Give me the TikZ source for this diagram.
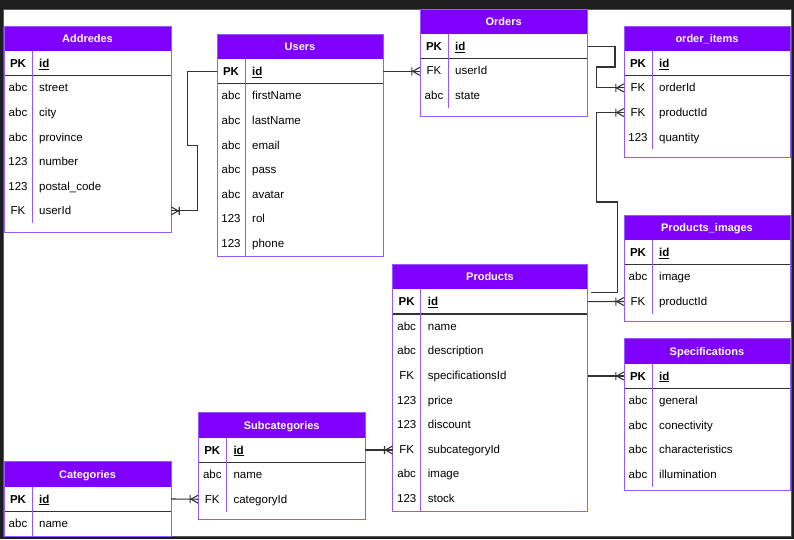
\documentclass[tikz,border=0pt]{standalone}
\usepackage{fontspec}
\setmainfont{Liberation Sans}
\usetikzlibrary{calc}
\definecolor{erpurple}{HTML}{7F00FF}
\definecolor{erborder}{HTML}{9459FF}
\definecolor{conncol}{HTML}{333333}
\definecolor{darkbg}{HTML}{1E1E1E}
\tikzset{
  ttltext/.style={text=white,font=\fontsize{11}{13}\selectfont\bfseries,inner sep=0pt,anchor=base},
  keytext/.style={font=\fontsize{11.5}{13}\selectfont,inner sep=0pt,anchor=base},
  fldtext/.style={font=\fontsize{11.5}{13}\selectfont,inner sep=0pt,anchor=base west},
  rowbox/.style={minimum height=24.6pt,inner sep=0pt,draw=none},
  conn/.style={draw=conncol,line width=1.1pt},
  crow/.pic={\draw[conncol,line width=1.1pt] (-7,0) -- (0,4) (-7,0) -- (0,-4) (-8,-4) -- (-8,4);}
}
% #1 id, #2 x1, #3 x2, #4 ytop, #5 ybot, #6 title, #7 number of rows, #8 rows key/field
\newcommand{\ertable}[8]{%
  \fill[white] (#2,#4) rectangle (#3,#5);
  \fill[erpurple] (#2,#4) rectangle (#3,#4+25);
  \node[ttltext] (#1-t) at ({(#2+#3)/2},#4+12.5+4) {#6};
  \node[rowbox,minimum width={(#3-#2)*1pt}] (#1-pk) at ({(#2+#3)/2},#4+37.3) {};
  \node[keytext,font=\fontsize{11.5}{13}\selectfont\bfseries] at (#2+14,#4+37.3+4) {PK};
  \node[fldtext,font=\fontsize{11.5}{13}\selectfont\bfseries] at (#2+35,#4+37.3+4) {\underline{id}};
  \foreach \k/\f [count=\i] in {#8} {
    \node[rowbox,minimum width={(#3-#2)*1pt}] (#1-\i) at ({(#2+#3)/2},#4+37.3+24.6*\i) {};
    \node[keytext] at (#2+14,#4+37.3+24.6*\i+4) {\k};
    \node[fldtext] at (#2+35,#4+37.3+24.6*\i+4) {\f};
  }
  \draw[conncol,line width=1.2pt] (#2,#4+49.6) -- (#3,#4+49.6);
  \draw[erborder,line width=1pt] (#2+28,#4+25) -- (#2+28,#4+49.6+24.6*#7);
  \draw[erborder,line width=1pt] (#2,#4) rectangle (#3,#5);
}
\begin{document}
\begin{tikzpicture}[x=1pt,y=-1pt]
\useasboundingbox (0,0) rectangle (794,539);
\fill[darkbg] (0,0) rectangle (794,539);
\fill[white] (3,9) rectangle (791,536);
\draw[gray!60!darkbg,line width=0.6pt] (3,9) rectangle (791,536);

\ertable{Addredes}{4}{171}{26}{232}{Addredes}{6}{abc/street,abc/city,abc/province,123/number,123/postal\_code,FK/userId}
\ertable{Users}{217}{383}{34}{256.2}{Users}{7}{abc/firstName,abc/lastName,abc/email,abc/pass,abc/avatar,123/rol,123/phone}
\ertable{Orders}{420}{587.3}{9}{116.3}{Orders}{2}{FK/userId,abc/state}
\ertable{oitems}{624}{790}{26}{157}{order\_items}{3}{FK/orderId,FK/productId,123/quantity}
\ertable{Pimages}{624}{790}{215}{321.7}{Products\_images}{2}{abc/image,FK/productId}
\ertable{Specs}{624}{790}{338.7}{490}{Specifications}{4}{abc/general,abc/conectivity,abc/characteristics,abc/illumination}
\ertable{Products}{392.7}{587.3}{264.3}{511}{Products}{8}{abc/name,abc/description,FK/specificationsId,123/price,123/discount,FK/subcategoryId,abc/image,123/stock}
\ertable{Subcat}{198.3}{365}{412.7}{519.3}{Subcategories}{2}{abc/name,FK/categoryId}
\ertable{Cat}{4}{171}{461.7}{536}{Categories}{1}{abc/name}

% connectors
\draw[conn] (Users-pk.west) -- ++(-29,0) -- ++(0,74) -- ++(10,0) |- (Addredes-6.east);
\draw[conn] (Users-pk.east) -- (Users-pk.east -| Orders-1.west);
\draw[conn] (Orders-pk.east) -| (615,67) -| ([xshift=-27pt]oitems-1.west) -- (oitems-1.west);
\draw[conn] ([xshift=3pt,yshift=9pt]Products-pk.east) -| (617.5,202) -| ([xshift=-27pt]oitems-2.west) -- (oitems-2.west);
\draw[conn] (Products-pk.east) -- (Pimages-2.west);
\draw[conn] (Specs-pk.west -| Products-3.east) -- (Specs-pk.west);
\draw[conn] (Subcat-pk.east) -- (Subcat-pk.east -| Products-6.west);
\draw[conn] (Cat-pk.east) -- (Subcat-2.west);

% crow's feet
\pic[xscale=-1] at (Addredes-6.east) {crow};
\pic at (Users-pk.east -| Orders-1.west) {crow};
\pic at (oitems-1.west) {crow};
\pic at (oitems-2.west) {crow};
\pic at (Pimages-2.west) {crow};
\pic at (Specs-pk.west) {crow};
\pic at (Subcat-pk.east -| Products-6.west) {crow};
\pic at (Subcat-2.west) {crow};
\end{tikzpicture}
\end{document}
